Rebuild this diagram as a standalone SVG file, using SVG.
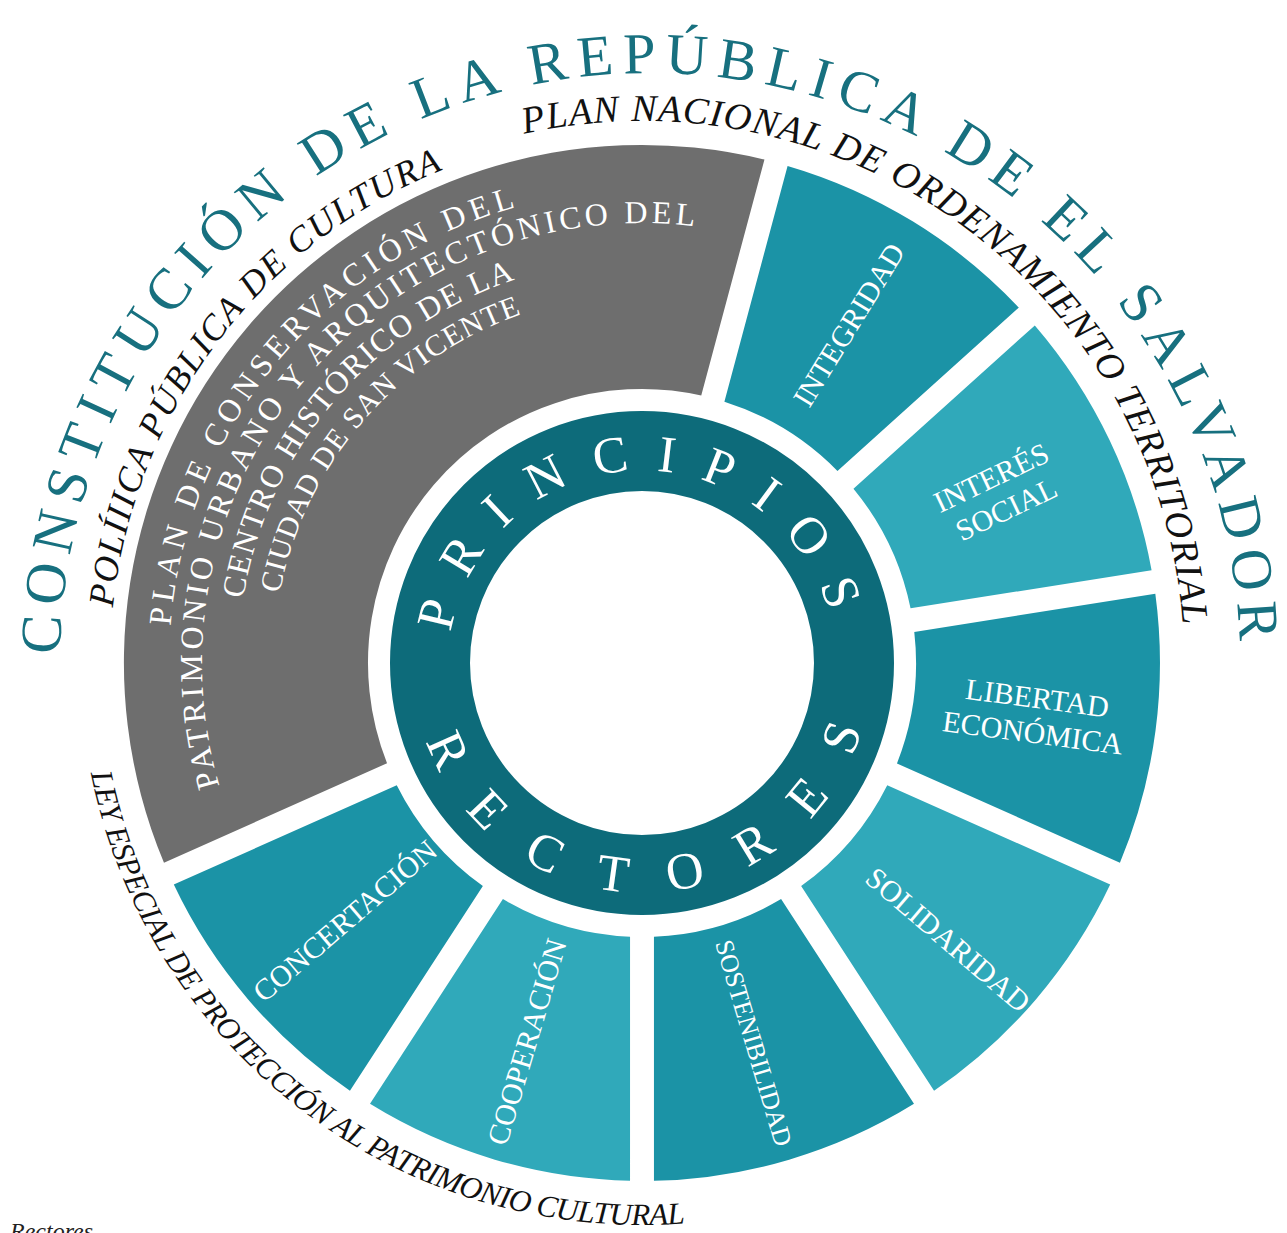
<svg xmlns="http://www.w3.org/2000/svg" width="1287" height="1233" viewBox="0 0 1287 1233">
<style>
.title{font-family:"Liberation Serif",serif;font-size:58px;fill:#17707f;}
.outer{font-family:"Liberation Serif",serif;font-style:italic;fill:#111;}
.ring{font-family:"Liberation Serif",serif;font-size:52px;fill:#fff;}
.gtxt{font-family:"Liberation Serif",serif;font-size:32px;fill:#fff;}
.lbl{font-family:"Liberation Serif",serif;font-size:30px;fill:#fff;text-anchor:middle;}
.dark{fill:#1b93a6;}
.light{fill:#30a9ba;}
</style>
<defs>
<path id="seg" d="M -135.6 -499.9 A 518 518 0 0 1 135.6 -499.9 L 66.3 -265.9 A 274 274 0 0 0 -66.3 -265.9 Z"/>
<path id="pTitle" d="M 63.4 726.2 A 590 590 0 1 1 1237.9 712.9"/>
<path id="pPol" d="M 123.6 782.7 A 532 532 0 0 1 614.2 131.7"/>
<path id="pPlan" d="M 471.8 148.4 A 542 542 0 0 1 1183.8 679.1"/>
<path id="pLey" d="M 82.1 712.0 A 562 562 0 0 0 746.3 1215.2"/>
<path id="pPrin" d="M 448.7 679.9 A 194 194 0 1 1 836.0 658.9"/>
<path id="pRect" d="M 412 663 A 230 230 0 1 0 871.7 651.0"/>
<path id="pG1" d="M 215.1 866.6 A 473 473 0 0 1 760.4 205.1"/>
<path id="pG2" d="M 242.3 846.9 A 440 440 0 0 1 758.1 238.6"/>
<path id="pG3" d="M 274.7 831.2 A 404 404 0 0 1 749.3 273.5"/>
<path id="pG4" d="M 305.2 813.7 A 369 369 0 0 1 743.1 308.1"/>
</defs>
<rect width="1287" height="1233" fill="#fff"/>

<g id="titulo">
<text class="title"><textPath href="#pTitle" startOffset="50%" text-anchor="middle" textLength="1823" lengthAdjust="spacing">CONSTITUCIÓN DE LA REPÚBLICA DE EL SALVADOR</textPath></text>
</g>
<g id="politica">
<text class="outer" style="font-size:36px"><textPath href="#pPol" startOffset="50%" text-anchor="middle" textLength="576" lengthAdjust="spacing">POLÍIICA PÚBLICA DE CULTURA</textPath></text>
</g>
<g id="plan-nacional">
<text class="outer" style="font-size:38px"><textPath href="#pPlan" startOffset="50%" text-anchor="middle" textLength="932" lengthAdjust="spacing">PLAN NACIONAL DE ORDENAMIENTO TERRITORIAL</textPath></text>
</g>
<g id="ley-especial">
<text class="outer" style="font-size:31px"><textPath href="#pLey" startOffset="50%" text-anchor="middle" textLength="815" lengthAdjust="spacing">LEY ESPECIAL DE PROTECCIÓN AL PATRIMONIO CULTURAL</textPath></text>
</g>

<g id="plan-conservacion">
<path fill="#6e6e6e" transform="translate(642,663) rotate(310.5)" d="M -462.3 -233.8 A 518 518 0 0 1 462.3 -233.8 L 241.9 -128.7 A 274 274 0 0 0 -241.9 -128.7 Z"/>
<text class="gtxt"><textPath href="#pG1" startOffset="50%" text-anchor="middle" textLength="578" lengthAdjust="spacing">PLAN DE CONSERVACIÓN  DEL</textPath></text>
<text class="gtxt"><textPath href="#pG2" startOffset="50%" text-anchor="middle" textLength="868" lengthAdjust="spacing">PATRIMONIO URBANO Y ARQUITECTÓNICO DEL</textPath></text>
<text class="gtxt"><textPath href="#pG3" startOffset="50%" text-anchor="middle" textLength="441" lengthAdjust="spacing">CENTRO HISTÓRICO DE LA</textPath></text>
<text class="gtxt" style="font-size:30px"><textPath href="#pG4" startOffset="50%" text-anchor="middle" textLength="387" lengthAdjust="spacing">CIUDAD DE SAN VICENTE</textPath></text>
</g>

<g id="integridad">
<use href="#seg" class="dark" transform="translate(642,663) rotate(31.5)"/>
<text class="lbl" transform="translate(849,325) rotate(-58.5)" y="10">INTEGRIDAD</text>
</g>
<g id="interes-social">
<use href="#seg" class="light" transform="translate(642,663) rotate(64.5)"/>
<text class="lbl" transform="translate(999,494) rotate(-25.5)"><tspan x="0" y="-8">INTERÉS</tspan><tspan x="0" y="27">SOCIAL</tspan></text>
</g>
<g id="libertad-economica">
<use href="#seg" class="dark" transform="translate(642,663) rotate(97.5)"/>
<text class="lbl" transform="translate(1035,716) rotate(7.5)"><tspan x="0" y="-8">LIBERTAD</tspan><tspan x="0" y="27">ECONÓMICA</tspan></text>
</g>
<g id="solidaridad">
<use href="#seg" class="light" transform="translate(642,663) rotate(130.5)"/>
<text class="lbl" transform="translate(948,940) rotate(40.5)" y="10">SOLIDARIDAD</text>
</g>
<g id="sostenibilidad">
<use href="#seg" class="dark" transform="translate(642,663) rotate(163.5)"/>
<text class="lbl" style="font-size:26px" transform="translate(754,1043) rotate(73.5)" y="9">SOSTENIBILIDAD</text>
</g>
<g id="cooperacion">
<use href="#seg" class="light" transform="translate(642,663) rotate(196.5)"/>
<text class="lbl" transform="translate(527,1042) rotate(-73.5)" y="10">COOPERACIÓN</text>
</g>
<g id="concertacion">
<use href="#seg" class="dark" transform="translate(642,663) rotate(229.5)"/>
<text class="lbl" transform="translate(345,921) rotate(-40.5)" y="10">CONCERTACIÓN</text>
</g>

<g id="principios-rectores">
<circle cx="642" cy="663" r="212" fill="none" stroke="#0d6b7a" stroke-width="80"/>
<text class="ring"><textPath href="#pPrin" startOffset="50%" text-anchor="middle" textLength="524" lengthAdjust="spacing">PRINCIPIOS</textPath></text>
<text class="ring"><textPath href="#pRect" startOffset="50%" text-anchor="middle" textLength="574" lengthAdjust="spacing">RECTORES</textPath></text>
</g>

<g id="pie">
<text x="10" y="1239" style="font-family:'Liberation Serif',serif;font-style:italic;font-size:24px;fill:#222">Rectores</text>
</g>
</svg>
